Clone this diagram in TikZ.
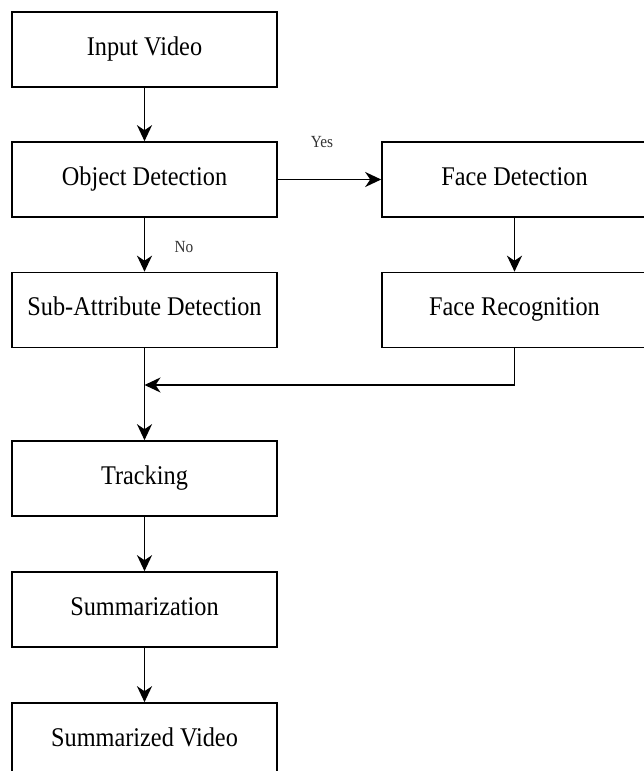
\documentclass[tikz,border=0pt]{standalone}
\usepackage{fontspec}
\setmainfont[FakeStretch=0.9]{Liberation Serif}
\usetikzlibrary{arrows.meta}

\tikzset{
  block/.style={draw, line width=1.6pt, minimum width=265pt, minimum height=75pt,
    inner sep=0pt, text height=19pt, text depth=8pt,
    font=\fontsize{27}{32}\selectfont},
  flow/.style={line width=1.6pt, -{Stealth[length=16pt,width=15pt,inset=5pt]}},
  tag/.style={font=\fontsize{17}{20}\selectfont, text=black!80}
}

\begin{document}
\begin{tikzpicture}[x=1pt,y=-1pt]
  \useasboundingbox (0,0) rectangle (643,771);

  % Main column
  \node[block] (input) at (144.5,49.5) {Input Video};
  \node[block] (objdet) at (144.5,179.5) {Object Detection};
  \node[block] (subattr) at (144.5,310) {Sub-Attribute Detection};
  \node[block] (tracking) at (144.5,478.5) {Tracking};
  \node[block] (summ) at (144.5,609.5) {Summarization};
  \node[block] (output) at (144.5,740.5) {Summarized Video};

  % Face branch
  \node[block] (facedet) at (514.5,179.5) {Face Detection};
  \node[block] (facerec) at (514.5,310) {Face Recognition};
  \coordinate (merge) at (144.5,385);

  % Branch labels
  \node[tag] (yes) at (322,142) {Yes};
  \node[tag] (no) at (184,247) {No};

  % Connectors
  \draw[flow] (input) -- (objdet);
  \draw[flow] (objdet) -- (subattr);
  \draw[flow] (objdet) -- (facedet);
  \draw[flow] (facedet) -- (facerec);
  \draw[flow] (facerec.south) |- (merge);
  \draw[flow] (subattr) -- (tracking);
  \draw[flow] (tracking) -- (summ);
  \draw[flow] (summ) -- (output);
\end{tikzpicture}
\end{document}
